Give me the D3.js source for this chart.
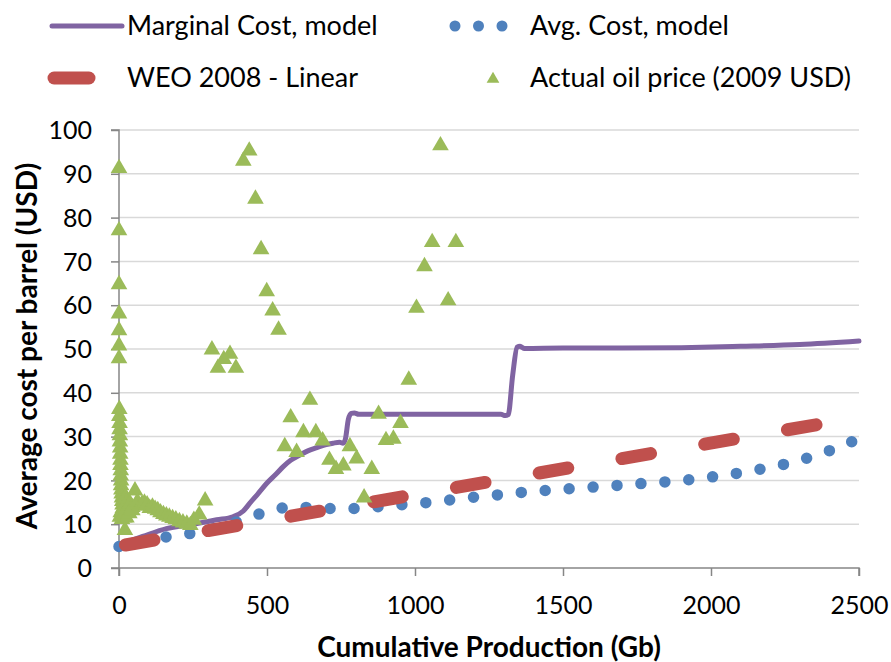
<!DOCTYPE html>
<html>
<head>
<meta charset="utf-8">
<script src="https://cdn.jsdelivr.net/npm/d3@7"></script>
<style>
  html, body { margin: 0; padding: 0; background: #fff; }
  svg { display: block; font-family: Lato, "Open Sans", sans-serif; }
</style>
</head>
<body>
<svg id="chart" width="891" height="662"></svg>
<script>
// Marginal cost of production from the model (Gb cumulative -> USD/bbl)
const marginalX = [0, 80, 160, 250, 330, 385, 420, 442, 470, 500, 530, 554, 580, 611, 640, 669, 700, 723, 745, 757, 765, 775, 785, 795, 810, 900, 1000, 1100, 1200, 1290, 1305, 1315, 1330, 1345, 1355, 1370, 1500, 1700, 1900, 2100, 2300, 2500];
const marginalY = [5.3, 7.2, 9.0, 10.0, 11.0, 11.7, 13.0, 14.8, 17.0, 19.4, 21.4, 23.1, 24.6, 25.8, 26.8, 27.5, 28.2, 28.5, 28.7, 28.5, 29.5, 34.0, 35.3, 35.4, 35.1, 35.1, 35.1, 35.1, 35.1, 35.1, 34.8, 35.0, 44.0, 50.4, 50.6, 50.1, 50.2, 50.2, 50.3, 50.6, 51.0, 51.8];

// Average cost from the model
const avgX = [0, 100, 200, 280, 350, 437, 513, 594, 673, 756, 837, 915, 1000, 1078, 1159, 1240, 1320, 1400, 1480, 1564, 1650, 1730, 1810, 1889, 1970, 2047, 2130, 2206, 2290, 2365, 2440, 2500];
const avgY = [4.9, 6.4, 7.5, 8.3, 9.6, 11.4, 13.2, 13.9, 13.7, 13.5, 13.8, 14.2, 14.7, 15.2, 15.9, 16.4, 17.0, 17.5, 17.9, 18.3, 18.7, 19.1, 19.5, 19.9, 20.5, 21.2, 22.1, 23.1, 24.4, 26.0, 27.8, 29.6];

// WEO 2008 linear cost curve
const weoX = [0, 2500];
const weoY = [5.0, 34.4];

// Actual oil price (2009 USD) against cumulative production at the time
const oilX = [
  0, 0, 0, 0, 0, 0, 0,
  1, 1, 2, 2, 3, 3, 4, 4, 5, 5, 6, 6, 7, 7, 8, 9, 10, 11, 12, 13, 14, 16, 18, 20,
  3, 6, 10, 15, 25, 35, 45, 22, 28, 32,
  38, 45, 54, 62, 70, 78, 86, 95, 104, 113, 122, 131, 140, 150, 160, 170, 181, 192, 204, 216, 229, 241,
  253, 271, 291, 314, 334, 354, 375, 395, 420, 440, 461, 480, 499, 519, 539,
  560, 580, 600, 623, 645, 665, 688, 711, 733, 758, 780, 803, 828, 854, 877, 902, 927, 951, 979,
  1005, 1032, 1058, 1086, 1112, 1138
];
const oilY = [
  91.6, 77.4, 65.1, 58.4, 54.6, 51.1, 48.2,
  36.6, 35.0, 33.4, 32.0, 30.6, 29.2, 27.8, 26.4, 25.0, 23.8, 22.6, 21.4, 20.3, 19.2, 18.2, 17.3, 16.4, 15.6, 14.8, 14.0, 13.2, 12.4, 11.8, 9.0,
  12.0, 13.0, 11.5, 12.5, 11.8, 12.8, 13.5, 16.5, 15.6, 14.6,
  15.0, 14.2, 18.0, 15.5, 14.5, 15.0, 15.2, 14.8, 14.0, 14.3, 13.8, 13.5, 13.0, 12.6, 12.3, 12.0, 11.7, 11.4, 11.0, 10.7, 10.4, 10.1,
  11.3, 12.5, 15.7, 50.2, 46.0, 48.0, 49.2, 46.0, 93.3, 95.6, 84.6, 73.1, 63.5, 59.1, 54.7,
  28.1, 34.7, 26.8, 31.3, 38.7, 31.3, 29.4, 25.0, 22.9, 23.7, 28.1, 25.3, 16.4, 22.9, 35.5, 29.5, 29.8, 33.4, 43.3,
  59.7, 69.2, 74.7, 96.8, 61.4, 74.7
];

const xTicks = [0, 500, 1000, 1500, 2000, 2500];
const yTicks = [0, 10, 20, 30, 40, 50, 60, 70, 80, 90, 100];

const seriesNames = ["Marginal Cost, model", "Avg. Cost, model", "WEO 2008 - Linear", "Actual oil price (2009 USD)"];
const colors = { marginal: "#8064A2", avg: "#4F81BD", weo: "#C0504D", oil: "#9BBB59" };

const W = 891, H = 662;
const margin = { top: 130, right: 32, bottom: 94, left: 119 };
const innerW = W - margin.left - margin.right;
const innerH = H - margin.top - margin.bottom;

const svg = d3.select("#chart");
const g = svg.append("g").attr("transform", `translate(${margin.left},${margin.top})`);

const x = d3.scaleLinear().domain([0, 2500]).range([0, innerW]);
const y = d3.scaleLinear().domain([0, 100]).range([innerH, 0]);

// horizontal gridlines
g.append("g").selectAll("line").data(yTicks.filter(d => d > 0)).join("line")
  .attr("x1", 0).attr("x2", innerW)
  .attr("y1", d => y(d)).attr("y2", d => y(d))
  .attr("stroke", "#d9d9d9").attr("stroke-width", 1.5);

// axes
const axisColor = "#868686";
const yAxis = g.append("g").call(d3.axisLeft(y).tickValues(yTicks).tickSize(8).tickPadding(19).tickFormat(d3.format("d")));
const xAxis = g.append("g").attr("transform", `translate(0,${innerH})`)
  .call(d3.axisBottom(x).tickValues(xTicks).tickSize(8).tickPadding(20).tickFormat(d3.format("d")));
[xAxis, yAxis].forEach(a => {
  a.select(".domain").attr("stroke", axisColor).attr("stroke-width", 1.5);
  a.selectAll(".tick line").attr("stroke", axisColor).attr("stroke-width", 1.5);
  a.selectAll(".tick text").attr("fill", "#000").style("font-size", "25px").style("font-family", "Lato, sans-serif");
});
yAxis.select(".domain").attr("d", `M-8,${innerH}H0V0H-8`);
xAxis.select(".domain").attr("d", `M0,8V0H${innerW}V8`);
yAxis.selectAll(".tick text").attr("dy", "0.35em");

const toPts = (xs, ys) => xs.map((v, i) => [v, ys[i]]);
const line = d3.line().x(d => x(d[0])).y(d => y(d[1]));

// marginal cost
g.append("path").datum(toPts(marginalX, marginalY))
  .attr("d", line.curve(d3.curveMonotoneX))
  .attr("fill", "none").attr("stroke", colors.marginal).attr("stroke-width", 5)
  .attr("stroke-linejoin", "round").attr("stroke-linecap", "round");

// average cost, round-dot line
g.append("path").datum(toPts(avgX, avgY))
  .attr("d", line.curve(d3.curveMonotoneX))
  .attr("fill", "none").attr("stroke", colors.avg).attr("stroke-width", 11.5)
  .attr("stroke-linecap", "round").attr("stroke-dasharray", "0 24");

// WEO linear, long dashes
g.append("path").datum(toPts(weoX, weoY))
  .attr("d", line.curve(d3.curveLinear))
  .attr("fill", "none").attr("stroke", colors.weo).attr("stroke-width", 13)
  .attr("stroke-linecap", "round").attr("stroke-dasharray", "29 55").attr("stroke-dashoffset", -6.5);

// actual oil price triangles
const tri = d3.symbol().type(d3.symbolTriangle).size(120);
g.append("g").selectAll("path").data(toPts(oilX, oilY)).join("path")
  .attr("d", tri)
  .attr("transform", d => `translate(${x(d[0])},${y(d[1]) + 1.5})`)
  .attr("fill", colors.oil);

// axis titles
svg.append("text").attr("x", margin.left + innerW / 2).attr("y", 657)
  .attr("text-anchor", "middle").style("font-size", "28px").style("font-weight", "bold")
  .text("Cumulative Production (Gb)");
svg.append("text").attr("transform", `translate(37,${margin.top + innerH / 2 - 3}) rotate(-90)`)
  .attr("text-anchor", "middle").style("font-size", "28px").style("font-weight", "bold")
  .text("Average cost per barrel (USD)");

// legend
const leg = svg.append("g").style("font-size", "27px");
leg.append("line").attr("x1", 52).attr("x2", 122).attr("y1", 26).attr("y2", 26)
  .attr("stroke", colors.marginal).attr("stroke-width", 5).attr("stroke-linecap", "round");
leg.append("text").attr("x", 127).attr("y", 26).attr("dy", "0.35em").text(seriesNames[0]);
leg.append("line").attr("x1", 455).attr("x2", 503).attr("y1", 26).attr("y2", 26)
  .attr("stroke", colors.avg).attr("stroke-width", 11).attr("stroke-linecap", "round").attr("stroke-dasharray", "0 23.5");
leg.append("text").attr("x", 530).attr("y", 26).attr("dy", "0.35em").text(seriesNames[1]);
leg.append("line").attr("x1", 54).attr("x2", 89).attr("y1", 78).attr("y2", 78)
  .attr("stroke", colors.weo).attr("stroke-width", 13).attr("stroke-linecap", "round");
leg.append("text").attr("x", 127).attr("y", 78).attr("dy", "0.35em").text(seriesNames[2]);
leg.append("path").attr("d", d3.symbol().type(d3.symbolTriangle).size(70))
  .attr("transform", "translate(493,79)").attr("fill", colors.oil);
leg.append("text").attr("x", 530).attr("y", 78).attr("dy", "0.35em").text(seriesNames[3]);
</script>
</body>
</html>
